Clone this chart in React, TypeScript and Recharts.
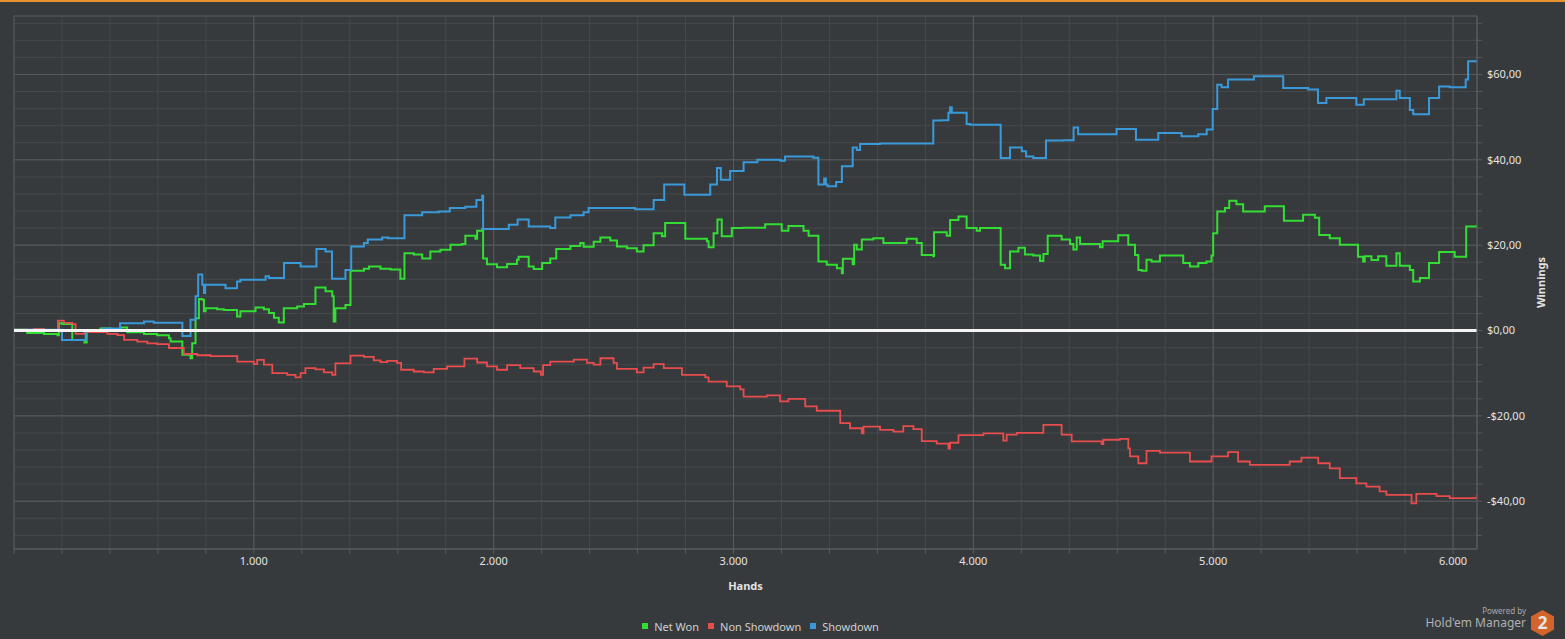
import React from 'react';
import {
  LineChart,
  Line,
  XAxis,
  YAxis,
  CartesianGrid,
  ReferenceLine,
  ReferenceArea,
  Legend,
  Label,
} from 'recharts';

// [hands, winnings $], drawn as steps
const showdown: [number, number][] = [
  [0, 0.2], [200, -2.2], [299, 0], [369, 0.5], [442, 1.7], [542, 2.1], [583, 1.8],
  [702, -1.3], [736, 2.5], [757, 8.0], [768, 13.1], [785, 10.7], [792, 8.8], [797, 10.7],
  [882, 9.9], [930, 11.5], [944, 11.9], [1049, 12.7], [1063, 12.3], [1126, 15.8],
  [1195, 15.0], [1261, 19.1], [1299, 18.5], [1326, 12.1], [1382, 14.2], [1406, 19.7],
  [1459, 20.5], [1475, 21.3], [1535, 21.8], [1560, 21.6], [1628, 27.0], [1702, 27.7],
  [1771, 27.9], [1817, 28.7], [1882, 29.0], [1928, 30.6], [1952, 31.6], [1956, 23.8],
  [2063, 24.8], [2100, 26.0], [2146, 24.4], [2236, 24.0], [2257, 26.5], [2320, 27.0],
  [2375, 27.7], [2396, 28.7], [2590, 28.4], [2667, 30.6], [2711, 34.2], [2795, 31.8],
  [2903, 34.2], [2931, 38.1], [2947, 35.3], [2986, 37.4], [3042, 39.4], [3100, 40.0],
  [3195, 39.8], [3215, 40.8], [3333, 40.5], [3354, 34.2], [3378, 35.6], [3385, 34.2],
  [3392, 33.8], [3428, 34.8], [3452, 38.5], [3497, 42.9], [3514, 42.3], [3528, 43.7],
  [3611, 43.8], [3833, 49.2], [3868, 49.3], [3896, 51.0], [3903, 52.3], [3910, 51.0],
  [3972, 48.4], [3986, 48.2], [4114, 40.4], [4153, 42.9], [4202, 42.0], [4220, 40.8],
  [4250, 40.4], [4303, 44.5], [4375, 44.6], [4418, 47.6], [4437, 46.0], [4597, 47.2],
  [4678, 44.7], [4771, 46.3], [4868, 45.5], [4938, 46.0], [4973, 47.1], [4998, 51.9],
  [5017, 57.6], [5035, 57.0], [5062, 58.8], [5170, 59.6], [5292, 56.8], [5396, 56.5],
  [5437, 53.3], [5472, 54.5], [5597, 52.9], [5628, 54.2], [5764, 56.2], [5778, 54.5],
  [5820, 51.7], [5834, 50.7], [5900, 54.5], [5942, 57.2], [5986, 57.0], [6053, 58.8],
  [6063, 63.1], [6100, 63.1],
];

const netWon: [number, number][] = [
  [0, 0.2], [55, -0.6], [125, -0.8], [181, -1.1], [187, 1.7], [201, 1.5], [243, -2.2],
  [294, -2.8], [303, 0], [361, 0.5], [403, 0.2], [444, 0.7], [472, -0.4], [542, -0.8],
  [597, -1.1], [646, -1.8], [653, -2.6], [702, -5.7], [736, -6.5], [743, -3.0],
  [757, 2.9], [771, 7.4], [785, 7.2], [792, 4.5], [799, 5.2], [847, 5.0], [875, 4.8],
  [930, 3.3], [944, 4.5], [1007, 5.4], [1042, 5.0], [1063, 4.1], [1084, 3.0],
  [1104, 1.9], [1125, 5.2], [1181, 5.6], [1209, 6.2], [1257, 10.1], [1299, 9.2],
  [1327, 8.0], [1333, 2.1], [1340, 5.2], [1382, 6.0], [1403, 14.0], [1459, 14.5],
  [1480, 15.0], [1528, 14.5], [1570, 14.3], [1611, 12.1], [1628, 18.1], [1667, 17.8],
  [1702, 16.9], [1736, 18.5], [1778, 18.9], [1820, 20.1], [1868, 20.3], [1882, 22.2],
  [1924, 21.5], [1931, 23.4], [1952, 23.8], [1956, 16.9], [1972, 15.5], [2014, 14.8],
  [2056, 15.6], [2097, 16.6], [2104, 17.3], [2146, 15.0], [2167, 14.4], [2202, 15.8],
  [2236, 16.9], [2261, 19.1], [2320, 19.8], [2361, 20.5], [2375, 19.6], [2417, 20.8],
  [2445, 21.8], [2486, 21.1], [2514, 19.7], [2556, 19.3], [2597, 18.5], [2625, 20.0],
  [2667, 22.8], [2702, 22.1], [2715, 25.2], [2799, 21.5], [2889, 20.9], [2896, 19.5],
  [2917, 22.8], [2933, 26.0], [2951, 22.1], [2993, 24.0], [3042, 24.1], [3132, 24.9],
  [3201, 23.4], [3229, 24.5], [3292, 23.4], [3313, 22.2], [3354, 16.2], [3389, 15.4],
  [3431, 14.6], [3452, 13.4], [3456, 16.8], [3497, 15.5], [3503, 20.1], [3514, 19.0],
  [3535, 21.3], [3583, 21.6], [3625, 20.5], [3722, 21.5], [3764, 20.5], [3785, 17.7],
  [3833, 17.4], [3836, 23.0], [3889, 22.2], [3903, 25.9], [3938, 26.7], [3972, 24.0],
  [4014, 23.4], [4028, 24.0], [4114, 15.4], [4132, 14.6], [4153, 18.5], [4188, 19.4],
  [4215, 17.8], [4250, 17.6], [4278, 16.3], [4292, 17.9], [4310, 22.2], [4368, 21.3],
  [4403, 20.3], [4417, 19.0], [4431, 21.8], [4445, 20.3], [4528, 19.5], [4539, 20.9],
  [4604, 22.3], [4646, 20.1], [4674, 17.7], [4688, 14.2], [4702, 14.0], [4722, 16.6],
  [4743, 16.2], [4778, 17.6], [4875, 15.8], [4903, 15.0], [4938, 15.8], [4972, 16.2],
  [4993, 17.6], [5000, 22.8], [5017, 27.9], [5049, 28.7], [5067, 30.4], [5097, 29.6],
  [5125, 27.9], [5215, 29.1], [5295, 25.7], [5375, 27.1], [5424, 26.4], [5442, 22.4],
  [5486, 21.6], [5528, 20.1], [5604, 17.3], [5625, 16.2], [5632, 17.4], [5660, 16.5],
  [5688, 17.4], [5722, 15.2], [5764, 18.1], [5778, 15.2], [5820, 14.2], [5834, 11.5],
  [5862, 12.3], [5900, 15.8], [5942, 18.4], [6007, 17.3], [6055, 24.4], [6100, 24.8],
];

const nonShowdown: [number, number][] = [
  [0, 0.2], [83, 0.4], [125, 0], [183, 2.3], [208, 1.8], [243, 1.5], [257, -0.8],
  [292, -0.4], [389, -0.8], [431, -1.1], [459, -2.2], [514, -2.6], [556, -3.0],
  [597, -3.2], [646, -4.1], [708, -5.5], [764, -5.8], [819, -6.0], [931, -7.3],
  [1000, -7.9], [1014, -6.9], [1042, -8.0], [1077, -10.0], [1139, -10.4], [1174, -11.0],
  [1195, -10.0], [1215, -8.8], [1257, -9.1], [1292, -9.8], [1327, -10.4], [1340, -7.7],
  [1403, -5.9], [1459, -6.2], [1500, -7.0], [1528, -7.4], [1556, -7.1], [1597, -7.6],
  [1614, -9.2], [1667, -9.6], [1709, -9.8], [1750, -9.0], [1806, -8.4], [1878, -6.6],
  [1931, -7.5], [1972, -8.4], [2014, -9.2], [2056, -8.1], [2111, -8.8], [2167, -9.6],
  [2197, -10.4], [2206, -8.1], [2236, -7.3], [2334, -6.8], [2389, -7.6], [2417, -8.0],
  [2445, -6.5], [2500, -7.6], [2514, -9.0], [2597, -9.8], [2625, -8.7], [2667, -7.9],
  [2709, -8.8], [2785, -10.4], [2882, -11.0], [2896, -12.0], [2972, -13.1],
  [3028, -13.8], [3042, -15.5], [3139, -15.2], [3194, -16.6], [3229, -16.0],
  [3299, -17.8], [3347, -18.8], [3445, -21.7], [3486, -22.9], [3535, -24.1],
  [3542, -22.5], [3611, -23.3], [3667, -23.7], [3708, -22.4], [3750, -23.1],
  [3785, -25.9], [3847, -26.5], [3896, -27.7], [3903, -26.3], [3938, -24.5],
  [4042, -24.1], [4125, -25.8], [4139, -24.4], [4181, -24.0], [4292, -22.1],
  [4368, -24.4], [4410, -26.0], [4535, -26.6], [4542, -25.6], [4611, -25.4],
  [4646, -27.6], [4653, -29.5], [4688, -31.1], [4722, -28.2], [4778, -28.6],
  [4903, -30.7], [4993, -29.5], [5062, -28.5], [5104, -30.7], [5153, -31.5],
  [5319, -30.7], [5368, -29.8], [5438, -31.1], [5486, -32.3], [5528, -34.6],
  [5597, -35.8], [5639, -36.6], [5694, -37.7], [5722, -38.5], [5827, -40.5],
  [5847, -38.3], [5931, -38.8], [5986, -39.3], [6100, -38.5],
];

// axis ticks (minor every 200 hands / $4, labelled at majors)
const handTicks = [
  0, 200, 400, 600, 800, 1000, 1200, 1400, 1600, 1800, 2000, 2200, 2400, 2600, 2800, 3000,
  3200, 3400, 3600, 3800, 4000, 4200, 4400, 4600, 4800, 5000, 5200, 5400, 5600, 5800, 6000,
];
const majorHands = [1000, 2000, 3000, 4000, 5000, 6000];
const winTicks = [
  -48, -44, -40, -36, -32, -28, -24, -20, -16, -12, -8, -4, 0, 4, 8, 12, 16, 20, 24, 28,
  32, 36, 40, 44, 48, 52, 56, 60, 64, 68, 72,
];
const majorWins = [-40, -20, 20, 40, 60];

const BG = '#373a3d';
const MINOR = '#45494c';
const MAJOR = '#575b5e';
const TEXT = '#e2e2e2';
const FONT = '"Noto Sans", "Open Sans", sans-serif';

const toRows = (pts: [number, number][]) => pts.map(([h, v]) => ({ h, v }));

const fmtHands = (v: number) => (v > 0 && v % 1000 === 0 ? `${v / 1000}.000` : '');
const fmtWin = (v: number) =>
  v % 20 === 0 ? `${v < 0 ? '-' : ''}$${Math.abs(v)},00` : '';

const renderLegend = (props: any) => {
  const { payload } = props;
  return (
    <div style={{ display: 'flex', justifyContent: 'center', fontFamily: FONT, fontSize: 11, color: '#cfcfcf', height: 18, alignItems: 'center' }}>
      {payload.map((entry: any) => (
        <span key={entry.value} style={{ display: 'flex', alignItems: 'center', marginRight: 9 }}>
          <span style={{ width: 6, height: 6, background: entry.color, display: 'inline-block', marginRight: 6 }} />
          {entry.value}
        </span>
      ))}
    </div>
  );
};

const App: React.FC = () => {
  return (
    <div style={{ position: 'fixed', left: 0, top: 0, width: 1565, height: 639, background: BG, overflow: 'hidden' }}>
      <div style={{ position: 'absolute', left: 0, top: 0, width: 1565, height: 2, background: '#e8922e' }} />
      <LineChart
        width={1565}
        height={639}
        margin={{ top: 16, right: 0, left: 14, bottom: 22 }}
      >
        <CartesianGrid stroke={MINOR} strokeWidth={1} />
        {majorWins.map((v) => (
          <ReferenceLine key={`my-${v}`} y={v} stroke={MAJOR} strokeWidth={1} />
        ))}
        {majorHands.map((v) => (
          <ReferenceLine key={`mx-${v}`} x={v} stroke={MAJOR} strokeWidth={1} />
        ))}
        <ReferenceArea x1={0} x2={6100} y1={-51.2} y2={73.7} fill="none" stroke={MAJOR} strokeWidth={1} />
        <XAxis
          dataKey="h"
          type="number"
          domain={[0, 6100]}
          ticks={handTicks}
          tickFormatter={fmtHands}
          allowDataOverflow
          height={50}
          tickSize={5}
          tickMargin={3}
          axisLine={{ stroke: MAJOR }}
          tickLine={{ stroke: MAJOR }}
          tick={{ fill: TEXT, fontSize: 11, fontFamily: FONT }}
          interval={0}
        >
          <Label value="Hands" position="insideBottom" offset={9} style={{ fill: TEXT, fontSize: 11, fontWeight: 700, fontFamily: FONT }} />
        </XAxis>
        <YAxis
          orientation="right"
          type="number"
          domain={[-51.2, 73.7]}
          ticks={winTicks}
          tickFormatter={fmtWin}
          allowDataOverflow
          width={88}
          tickSize={5}
          tickMargin={5}
          axisLine={{ stroke: MAJOR }}
          tickLine={{ stroke: MAJOR }}
          tick={{ fill: TEXT, fontSize: 11, fontFamily: FONT }}
          interval={0}
        >
          <Label value="Winnings" angle={-90} position="center" dx={20} style={{ fill: TEXT, fontSize: 11, fontWeight: 700, fontFamily: FONT, textAnchor: 'middle' }} />
        </YAxis>
        <Line
          name="Net Won"
          data={toRows(netWon)}
          dataKey="v"
          type="stepAfter"
          stroke="#33dd33"
          strokeWidth={2}
          dot={false}
          isAnimationActive={false}
        />
        <Line
          name="Non Showdown"
          data={toRows(nonShowdown)}
          dataKey="v"
          type="stepAfter"
          stroke="#e84c4c"
          strokeWidth={1.8}
          dot={false}
          isAnimationActive={false}
        />
        <Line
          name="Showdown"
          data={toRows(showdown)}
          dataKey="v"
          type="stepAfter"
          stroke="#3a9ad9"
          strokeWidth={2}
          dot={false}
          isAnimationActive={false}
        />
        <ReferenceLine y={0} stroke="#f4f4f4" strokeWidth={3} />
        <Legend verticalAlign="bottom" content={renderLegend} wrapperStyle={{ left: 0, width: 1530, bottom: 4 }} />
      </LineChart>
      {/* watermark */}
      <div style={{ position: 'absolute', right: 39, top: 607, textAlign: 'right', fontFamily: FONT, color: '#b0b0b0', lineHeight: 1 }}>
        <div style={{ fontSize: 8, color: '#a8a8a8', marginBottom: 2 }}>Powered by</div>
        <div style={{ fontSize: 12 }}>Hold'em Manager</div>
      </div>
      <svg style={{ position: 'absolute', left: 1530, top: 610 }} width={25} height={26} viewBox="0 0 25 26">
        <polygon points="12.5,0 24,6.5 24,19.5 12.5,26 1,19.5 1,6.5" fill="#d4642a" />
        <text x={12.5} y={19} textAnchor="middle" fontFamily={FONT} fontWeight={700} fontSize={17} fill="#e6e6e6">2</text>
      </svg>
    </div>
  );
};

export default App;
